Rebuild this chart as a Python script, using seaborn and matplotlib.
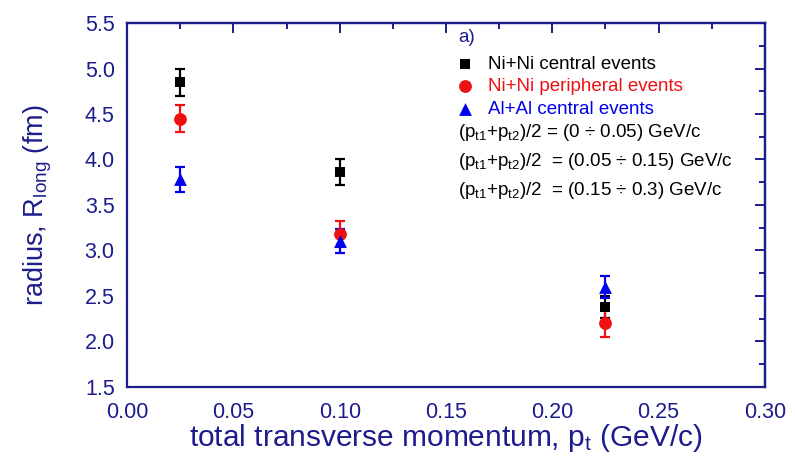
import matplotlib
matplotlib.use("Agg")
import matplotlib.pyplot as plt
from matplotlib.ticker import MultipleLocator
import seaborn as sns
import pandas as pd

# data
pt = [0.025, 0.1, 0.225]
ni_central = [4.85, 3.86, 2.38]
ni_central_err = [0.15, 0.14, 0.12]
ni_peripheral = [4.45, 3.18, 2.20]
ni_peripheral_err = [0.15, 0.14, 0.15]
al_central = [3.78, 3.10, 2.60]
al_central_err = [0.14, 0.13, 0.12]
series_names = ["Ni+Ni central events", "Ni+Ni peripheral events", "Al+Al central events"]
range_labels = [r"(p$_{\rm t1}$+p$_{\rm t2}$)/2 = (0 $\div$ 0.05) GeV/c",
                r"(p$_{\rm t1}$+p$_{\rm t2}$)/2  = (0.05 $\div$ 0.15) GeV/c",
                r"(p$_{\rm t1}$+p$_{\rm t2}$)/2  = (0.15 $\div$ 0.3) GeV/c"]

sns.set_style("white")
plt.rcParams["font.family"] = ["Liberation Sans", "DejaVu Sans"]
plt.rcParams["mathtext.fontset"] = "custom"
plt.rcParams["mathtext.rm"] = "Liberation Sans"
plt.rcParams["mathtext.it"] = "Liberation Sans"

navy = "#1c1c8c"
colors = ["#000000", "#ee1111", "#0000ee"]
markers = ["s", "o", "^"]
sizes = [60, 85, 85]

df = pd.DataFrame({
    "pt": pt * 3,
    "R": ni_central + ni_peripheral + al_central,
    "err": ni_central_err + ni_peripheral_err + al_central_err,
    "series": [s for s in series_names for _ in pt],
})

fig = plt.figure(figsize=(7.95, 4.61), dpi=100)
ax = fig.add_axes([0.160, 0.161, 0.802, 0.789])

for name, c, m, s in zip(series_names, colors, markers, sizes):
    d = df[df["series"] == name]
    ax.errorbar(d["pt"], d["R"], yerr=d["err"], fmt="none", ecolor=c,
                elinewidth=1.6, capsize=3.8, capthick=1.6, zorder=2)
    sns.scatterplot(x=d["pt"], y=d["R"], marker=m, s=s, color=c,
                    edgecolor=c, linewidth=0, ax=ax, zorder=3, label=name)

ax.set_xlim(0, 0.30)
ax.set_ylim(1.5, 5.5)
ax.xaxis.set_major_locator(MultipleLocator(0.05))
ax.xaxis.set_minor_locator(MultipleLocator(0.025))
ax.yaxis.set_major_locator(MultipleLocator(0.5))
ax.yaxis.set_minor_locator(MultipleLocator(0.25))
ax.set_xticklabels([f"{v:.2f}" for v in ax.get_xticks()])
ax.set_yticklabels([f"{v:.1f}" for v in ax.get_yticks()])

for sp in ax.spines.values():
    sp.set_color(navy)
    sp.set_linewidth(1.6)
ax.tick_params(which="both", direction="out", colors=navy, width=1.4,
               labelsize=15.5, labelcolor=navy)
ax.tick_params(axis="x", pad=4)
ax.tick_params(axis="y", pad=2)
ax.tick_params(which="major", length=7)
ax.tick_params(which="minor", length=4)

top = ax.secondary_xaxis("top")
top.xaxis.set_major_locator(MultipleLocator(0.05))
top.xaxis.set_minor_locator(MultipleLocator(0.025))
top.tick_params(which="both", direction="in", colors=navy, width=1.4, labeltop=False)
top.tick_params(which="major", length=7)
top.tick_params(which="minor", length=4)
top.spines["top"].set_color(navy)
top.spines["top"].set_linewidth(1.6)
right = ax.secondary_yaxis("right")
right.yaxis.set_major_locator(MultipleLocator(0.5))
right.yaxis.set_minor_locator(MultipleLocator(0.25))
right.tick_params(which="both", direction="in", colors=navy, width=1.4, labelright=False)
right.tick_params(which="major", length=7)
right.tick_params(which="minor", length=4)
right.spines["right"].set_color(navy)
right.spines["right"].set_linewidth(1.6)

ax.set_xlabel(r"total transverse momentum, p$_{\rm t}$ (GeV/c)", fontsize=21.5,
              color=navy, labelpad=-1)
ax.set_ylabel(r"radius, R$_{\rm long}$ (fm)", fontsize=19.5, color=navy, labelpad=22)

leg = ax.legend(loc="upper left", bbox_to_anchor=(0.519, 0.911), frameon=False,
                fontsize=13.5, handletextpad=0.85, labelspacing=0.3,
                handlelength=0.75, borderaxespad=0, borderpad=0)
for t, c in zip(leg.get_texts(), colors):
    t.set_color(c)

ax.text(0.519, 0.959, "a)", transform=ax.transAxes, fontsize=13.5, color=navy,
        va="center", ha="left")
for i, lab in enumerate(range_labels):
    ax.text(0.519, 0.700 - i * 0.08, lab, transform=ax.transAxes, fontsize=13.5,
            color="black", va="center", ha="left")

fig.savefig("out.png", dpi=100)
